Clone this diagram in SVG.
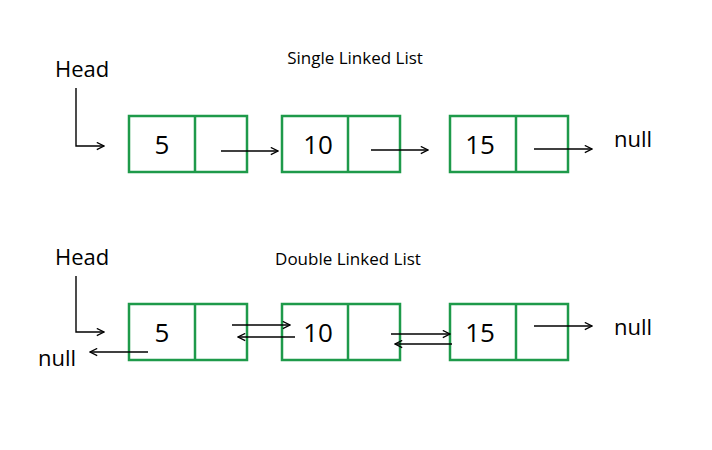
<svg xmlns="http://www.w3.org/2000/svg" width="712" height="450" viewBox="0 0 712 450">
<style>
.box{fill:none;stroke:#1e9a4a;stroke-width:2.5}
.ln{fill:none;stroke:#000;stroke-width:1.4}
.t{font-family:"Open Sans","Liberation Sans",sans-serif;fill:#000}
.v{font-size:26px;text-anchor:middle}
.l{font-size:22px}
.h{font-size:17px;text-anchor:middle}
</style>
<defs>
<marker id="a" viewBox="0 0 10 10" refX="9" refY="5" markerWidth="9" markerHeight="9" markerUnits="userSpaceOnUse" orient="auto"><path d="M1,1 L9,5 L1,9" fill="none" stroke="#000" stroke-width="1.4"/></marker>
</defs>
<rect width="712" height="450" fill="#fff"/>
<text class="t h" x="355" y="64">Single Linked List</text>
<text class="t h" x="348" y="265">Double Linked List</text>
<text class="t l" x="55" y="77">Head</text>
<text class="t l" x="55" y="265">Head</text>
<text class="t l" x="614" y="147">null</text>
<text class="t l" x="614" y="335">null</text>
<text class="t l" x="38" y="366">null</text>
<g id="s1"><rect class="box" x="129" y="116" width="118" height="56"/><line class="box" x1="195" y1="116" x2="195" y2="172"/><text class="t v" x="162" y="154">5</text></g>
<g id="s2"><rect class="box" x="282" y="116" width="118" height="56"/><line class="box" x1="348" y1="116" x2="348" y2="172"/><text class="t v" x="318" y="154">10</text></g>
<g id="s3"><rect class="box" x="450" y="116" width="118" height="56"/><line class="box" x1="516" y1="116" x2="516" y2="172"/><text class="t v" x="480" y="154">15</text></g>
<g id="d1"><rect class="box" x="129" y="304" width="118" height="56"/><line class="box" x1="195" y1="304" x2="195" y2="360"/><text class="t v" x="162" y="342">5</text></g>
<g id="d2"><rect class="box" x="282" y="304" width="118" height="56"/><line class="box" x1="348" y1="304" x2="348" y2="360"/><text class="t v" x="318" y="342">10</text></g>
<g id="d3"><rect class="box" x="450" y="304" width="118" height="56"/><line class="box" x1="516" y1="304" x2="516" y2="360"/><text class="t v" x="480" y="342">15</text></g>
<g id="connectors" marker-end="url(#a)">
<path class="ln" d="M76,88 V146 H104"/>
<path class="ln" d="M76,276 V332 H104"/>
<line class="ln" x1="221" y1="151" x2="278" y2="151"/>
<line class="ln" x1="371" y1="150" x2="428" y2="150"/>
<line class="ln" x1="534" y1="149" x2="592" y2="149"/>
<line class="ln" x1="232" y1="325" x2="290" y2="325"/>
<line class="ln" x1="295" y1="337" x2="238" y2="337"/>
<line class="ln" x1="391" y1="334" x2="450" y2="334"/>
<line class="ln" x1="452" y1="344" x2="395" y2="344"/>
<line class="ln" x1="148" y1="352" x2="90" y2="352"/>
<line class="ln" x1="534" y1="326" x2="592" y2="326"/>
</g>
</svg>
